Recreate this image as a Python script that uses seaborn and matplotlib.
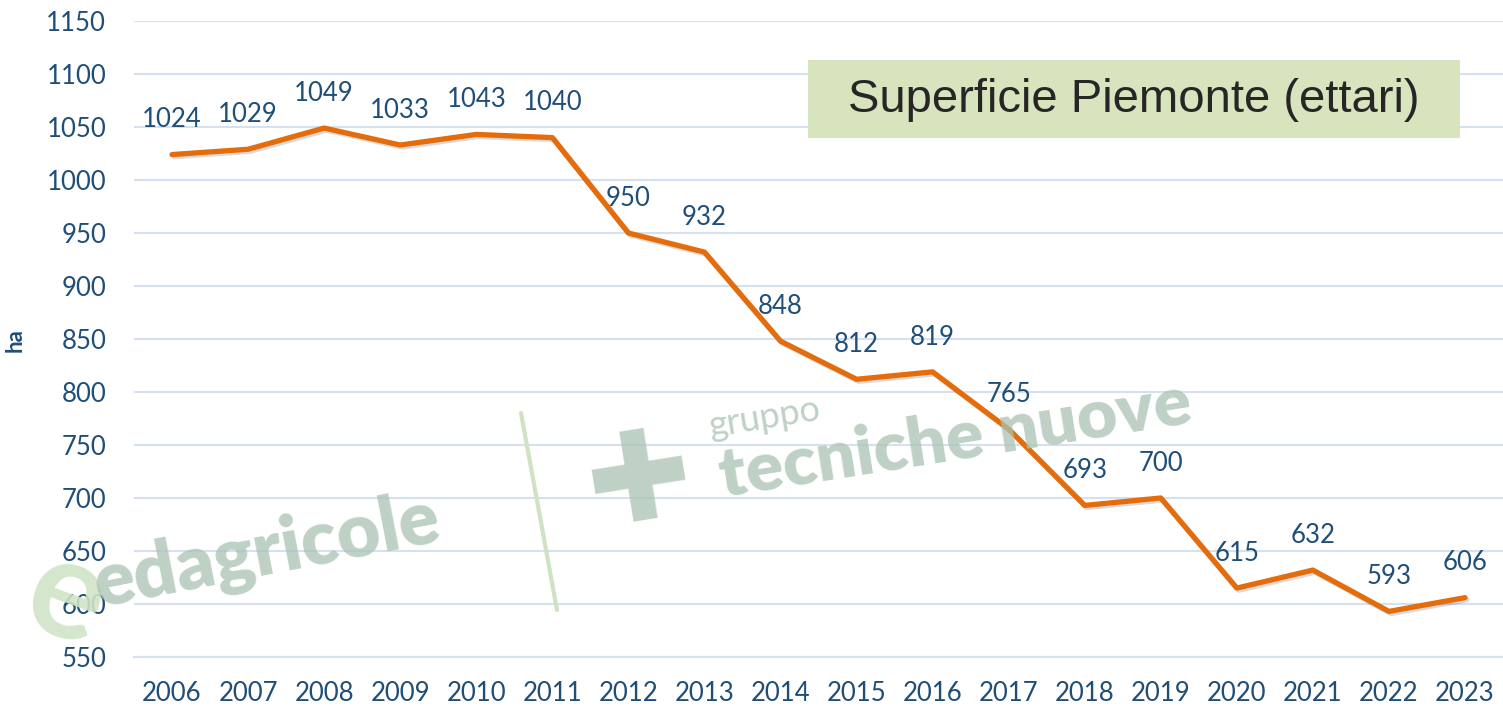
import matplotlib
matplotlib.use("Agg")
import matplotlib.pyplot as plt
import matplotlib.patheffects as pe
from matplotlib.patches import Rectangle
from matplotlib.lines import Line2D
import pandas as pd
import seaborn as sns

# data
anni = [str(a) for a in range(2006, 2024)]
ettari = [1024, 1029, 1049, 1033, 1043, 1040, 950, 932, 848, 812,
          819, 765, 693, 700, 615, 632, 593, 606]
y_ticks = list(range(550, 1151, 50))

blu = "#1F4E79"
arancio = "#E46C0A"
griglia = "#D5E1F1"

df = pd.DataFrame({"anno": anni, "ha": ettari})

sns.set_style("white")
plt.rcParams["font.family"] = ["Lato", "DejaVu Sans"]

fig = plt.figure(figsize=(15.03, 7.08), dpi=100)
ax = fig.add_axes([134 / 1503, 51 / 708, 1369 / 1503, 636 / 708])

sns.lineplot(data=df, x="anno", y="ha", ax=ax, color=arancio, linewidth=3.8,
             sort=False, zorder=3,
             path_effects=[pe.SimpleLineShadow(offset=(1.5, -1.5), alpha=0.15),
                           pe.Normal()])

# etichette sui punti
for i, v in enumerate(ettari):
    ax.annotate(str(v), (i, v), xytext=(0, 25), textcoords="offset points",
                ha="center", va="center", fontsize=18.5, color=blu, zorder=5)

ax.set_xlim(-0.5, len(anni) - 0.5)
ax.set_ylim(550, 1150)
ax.set_yticks(y_ticks)
ax.set_yticklabels([str(t) for t in y_ticks])
ax.set_xticks(range(len(anni)))
ax.set_xticklabels(anni)
ax.set_xticks([i - 0.5 for i in range(len(anni) + 1)], minor=True)
ax.tick_params(axis="x", which="major", length=0, pad=17, labelsize=18.5, labelcolor=blu)
ax.tick_params(axis="x", which="minor", length=8, width=1.5, color=griglia)
ax.tick_params(axis="y", length=0, pad=20, labelsize=18.5, labelcolor=blu)
ax.grid(axis="y", color=griglia, linewidth=1.5)
ax.set_axisbelow(True)
for s in ["top", "right", "left"]:
    ax.spines[s].set_visible(False)
ax.spines["bottom"].set_color(griglia)
ax.spines["bottom"].set_linewidth(1.5)
ax.set_xlabel("")
ax.set_ylabel("ha", fontsize=16, fontweight="bold", color=blu)
ax.yaxis.set_label_coords(-108 / 1369, 1 - (340 - 21) / 636)

# riquadro titolo
fig.patches.append(Rectangle((808 / 1503, 1 - 138 / 708), 652 / 1503, 78 / 708,
                             transform=fig.transFigure, facecolor="#D7E4BD",
                             edgecolor="none", zorder=4))
fig.text(1134 / 1503, 1 - 100 / 708, "Superficie Piemonte (ettari)",
         fontsize=34, color="#262626", ha="center", va="center",
         family=["Liberation Sans", "DejaVu Sans"], zorder=5)

# watermark
wm = "#A9C2B2"
fig.text(66 / 1503, 1 - 598 / 708, "e", fontsize=100, fontweight="bold",
         color="#CFE4C5", ha="center", va="center", rotation=-20, alpha=0.9, zorder=6)
fig.text(267 / 1503, 1 - 553 / 708, "edagricole", fontsize=54, fontweight="heavy",
         color=wm, ha="center", va="center", rotation=11, alpha=0.75, zorder=6)
fig.lines.append(Line2D([521 / 1503, 557 / 1503], [1 - 413 / 708, 1 - 610 / 708],
                        transform=fig.transFigure, color="#CFE3C4", linewidth=3, zorder=6))
fig.text(640 / 1503, 1 - 485 / 708, "\u271a", fontsize=90, color=wm,
         ha="center", va="center", rotation=9, alpha=0.75, zorder=6,
         family=["DejaVu Sans"])
fig.text(765 / 1503, 1 - 418 / 708, "gruppo", fontsize=26, color=wm,
         ha="center", va="center", rotation=9, alpha=0.75, zorder=6)
fig.text(955 / 1503, 1 - 440 / 708, "tecniche nuove", fontsize=50, fontweight="heavy",
         color=wm, ha="center", va="center", rotation=9, alpha=0.75, zorder=6)

fig.savefig("out.png", dpi=100)
